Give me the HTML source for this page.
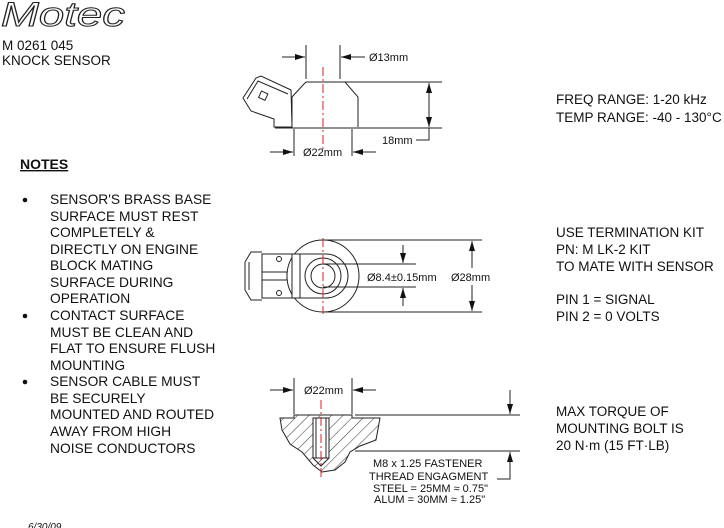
<!DOCTYPE html>
<html><head><meta charset="utf-8"><style>
html,body{margin:0;padding:0;background:#fff;width:724px;height:528px;overflow:hidden}
svg{display:block}
text{font-family:"Liberation Sans",Arial,sans-serif;fill:#111}
</style></head><body>
<svg width="724" height="528" viewBox="0 0 724 528" xmlns="http://www.w3.org/2000/svg">
<defs>
<marker id="a" markerWidth="10" markerHeight="6" refX="10" refY="3" orient="auto" markerUnits="userSpaceOnUse"><path d="M0,0 L10,3 L0,6 z" fill="#111"/></marker>
<pattern id="h" width="8" height="8" patternUnits="userSpaceOnUse" patternTransform="rotate(45)"><line x1="0" y1="0" x2="0" y2="8" stroke="#333" stroke-width="1"/></pattern>
</defs>
<!-- header -->
<text x="1" y="26" font-size="34" font-style="italic" textLength="124" lengthAdjust="spacingAndGlyphs" stroke="#222" stroke-width="1" style="fill:none">Motec</text>
<text x="2" y="50" font-size="13.5">M 0261 045</text>
<text x="2" y="65" font-size="13.5">KNOCK SENSOR</text>

<!-- notes -->
<text x="20" y="169" font-size="14" font-weight="bold" text-decoration="underline">NOTES</text>
<g font-size="13.8">
<circle cx="25" cy="200" r="2.3" fill="#111"/><text x="50" y="204">SENSOR'S BRASS BASE</text>
<text x="50" y="221">SURFACE MUST REST</text>
<text x="50" y="237">COMPLETELY &amp;</text>
<text x="50" y="254">DIRECTLY ON ENGINE</text>
<text x="50" y="270">BLOCK MATING</text>
<text x="50" y="287">SURFACE DURING</text>
<text x="50" y="303">OPERATION</text>
<circle cx="25" cy="316" r="2.3" fill="#111"/><text x="50" y="320">CONTACT SURFACE</text>
<text x="50" y="337">MUST BE CLEAN AND</text>
<text x="50" y="353">FLAT TO ENSURE FLUSH</text>
<text x="50" y="370">MOUNTING</text>
<circle cx="25" cy="382" r="2.3" fill="#111"/><text x="50" y="386">SENSOR CABLE MUST</text>
<text x="50" y="403">BE SECURELY</text>
<text x="50" y="419">MOUNTED AND ROUTED</text>
<text x="50" y="436">AWAY FROM HIGH</text>
<text x="50" y="453">NOISE CONDUCTORS</text>
</g>

<!-- right text -->
<g font-size="13.5">
<text x="556" y="104">FREQ RANGE: 1-20 kHz</text>
<text x="556" y="122">TEMP RANGE: -40 - 130°C</text>
<text x="556" y="237">USE TERMINATION KIT</text>
<text x="556" y="254">PN: M LK-2 KIT</text>
<text x="556" y="271">TO MATE WITH SENSOR</text>
<text x="556" y="304">PIN 1 = SIGNAL</text>
<text x="556" y="321">PIN 2 = 0 VOLTS</text>
<text x="556" y="416">MAX TORQUE OF</text>
<text x="556" y="433">MOUNTING BOLT IS</text>
<text x="556" y="450">20 N·m (15 FT·LB)</text>
</g>
<text x="28" y="530" font-size="10" font-style="italic">6/30/09</text>

<g stroke="#222" stroke-width="1" fill="none">
<!-- side view -->
<path d="M243,98 L256,78 L261,76 L291,90 L292,127 L274,127 L274,119 L251,111 Z"/>
<path d="M247,99 L258,81 L288,94"/>
<rect x="260" y="92" width="7" height="7" transform="rotate(25 263 95)"/>
<path d="M292,127 L292,97 L304,84 L306,82 L345,82 L358,97 L358,127"/>
<line x1="275" y1="128" x2="442" y2="128"/>
<line x1="345" y1="82" x2="442" y2="82"/>
<line x1="306" y1="45" x2="306" y2="79"/>
<line x1="340" y1="45" x2="340" y2="79"/>
<line x1="282" y1="57" x2="305" y2="57" marker-end="url(#a)"/>
<line x1="365" y1="57" x2="341" y2="57" marker-end="url(#a)"/>
<line x1="294" y1="129" x2="294" y2="156"/>
<line x1="352" y1="129" x2="352" y2="156"/>
<line x1="270" y1="152" x2="293" y2="152" marker-end="url(#a)"/>
<line x1="376" y1="152" x2="353" y2="152" marker-end="url(#a)"/>
<line x1="429" y1="105" x2="429" y2="83" marker-end="url(#a)"/>
<line x1="429" y1="105" x2="429" y2="127" marker-end="url(#a)"/>
<polyline points="429,128 429,140 416,140"/>

<!-- top view -->
<circle cx="323" cy="276" r="36"/>
<path d="M292,254 L326,254 A22,22 0 0 1 326,298 L292,298 Z" fill="#fff"/>
<circle cx="323" cy="276" r="18"/>
<circle cx="323" cy="276" r="12"/>
<line x1="300" y1="254" x2="300" y2="298"/>
<path d="M262,254 L292,254 L292,298 L262,298 Z"/>
<path d="M262,252 L251,252 L245,262 L245,290 L251,300 L262,300"/>
<path d="M249,262 L249,290"/>
<rect x="262" y="272" width="25" height="8"/>
<circle cx="279" cy="259" r="2.5"/>
<circle cx="279" cy="293" r="2.5"/>
<line x1="323" y1="240" x2="482" y2="240"/>
<line x1="323" y1="312" x2="482" y2="312"/>
<line x1="323" y1="264" x2="416" y2="264"/>
<line x1="323" y1="287" x2="416" y2="287"/>
<line x1="403" y1="245" x2="403" y2="263" marker-end="url(#a)"/>
<line x1="403" y1="306" x2="403" y2="288" marker-end="url(#a)"/>
<line x1="472" y1="268" x2="472" y2="241" marker-end="url(#a)"/>
<line x1="472" y1="285" x2="472" y2="311" marker-end="url(#a)"/>

<!-- mount view -->
<path d="M280,418 L294,418 L294,415 L352,415 L352,418 L380,418 L376,440 L360,446 L350,452 L345,462 L335,470 L322,472 L313,465 L302,452 L290,444 L282,430 Z" fill="url(#h)"/>
<rect x="313" y="418" width="16" height="40" fill="#fff"/>
<line x1="316" y1="418" x2="316" y2="458"/>
<line x1="326" y1="418" x2="326" y2="458"/>
<path d="M313,458 L321,466 L329,458"/>
<line x1="355" y1="415" x2="520" y2="415"/>
<line x1="355" y1="451" x2="520" y2="451"/>
<line x1="294" y1="378" x2="294" y2="414"/>
<line x1="352" y1="378" x2="352" y2="414"/>
<line x1="270" y1="390" x2="293" y2="390" marker-end="url(#a)"/>
<line x1="376" y1="390" x2="353" y2="390" marker-end="url(#a)"/>
<line x1="510" y1="390" x2="510" y2="414" marker-end="url(#a)"/>
<line x1="510" y1="475" x2="510" y2="452" marker-end="url(#a)"/>
<polyline points="510,475 510,479 497,479"/>
</g>

<!-- center lines -->
<g stroke="#d22" stroke-width="1" stroke-dasharray="9,3,2,3">
<line x1="323" y1="67" x2="323" y2="152"/>
<line x1="323" y1="238" x2="323" y2="314"/>
<line x1="321" y1="400" x2="321" y2="478"/>
</g>

<g font-size="11">
<text x="369" y="61">Ø13mm</text>
<text x="303" y="156">Ø22mm</text>
<text x="382" y="144">18mm</text>
<text x="367" y="281">Ø8.4±0.15mm</text>
<text x="451" y="281">Ø28mm</text>
<text x="304" y="394">Ø22mm</text>
<text x="373" y="467">M8 x 1.25 FASTENER</text>
<text x="369" y="480">THREAD ENGAGMENT</text>
<text x="373" y="492">STEEL = 25MM ≈ 0.75"</text>
<text x="374" y="503">ALUM = 30MM ≈ 1.25"</text>
</g>
</svg>
</body></html>
